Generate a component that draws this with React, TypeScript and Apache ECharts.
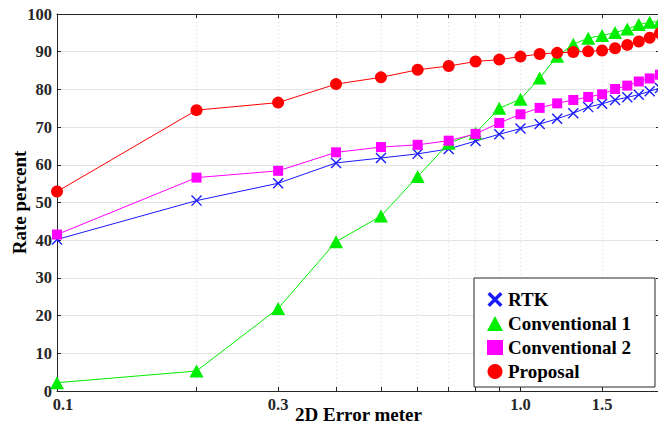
import React, { useEffect, useRef } from "react";
import * as echarts from "echarts";

const errorMeter = [0.1, 0.2, 0.3, 0.4, 0.5, 0.6, 0.7, 0.8, 0.9, 1.0, 1.1, 1.2, 1.3, 1.4, 1.5, 1.6, 1.7, 1.8, 1.9, 2.0];
const rtk = [40.2, 50.5, 55.1, 60.5, 61.8, 62.9, 64.2, 66.3, 68.1, 69.6, 70.8, 72.2, 73.7, 75.3, 76.2, 77.2, 77.9, 78.6, 79.5, 80.4];
const conventional1 = [2.2, 5.3, 21.9, 39.6, 46.4, 56.9, 65.7, 68.4, 75.0, 77.4, 83.0, 88.8, 92.0, 93.6, 94.3, 95.1, 96.0, 97.2, 97.8, 98.0];
const conventional2 = [41.5, 56.6, 58.4, 63.3, 64.7, 65.3, 66.4, 68.2, 71.1, 73.4, 75.1, 76.3, 77.2, 78.0, 78.7, 80.1, 81.0, 82.1, 82.9, 83.9];
const proposal = [52.9, 74.5, 76.5, 81.4, 83.2, 85.2, 86.2, 87.4, 87.9, 88.7, 89.4, 89.7, 89.9, 90.1, 90.3, 90.9, 91.8, 92.7, 93.7, 94.9];

const xLabelTicks = [0.1, 0.3, 1.0, 1.5];
const xMinorTicks = [0.2, 0.4, 0.5, 0.6, 0.7, 0.8, 0.9, 2.0];
const xDashedLines = [0.3, 1.5];
const xSolidLines = [1.0];
const seriesNames = ["RTK", "Conventional 1", "Conventional 2", "Proposal"];

const X_PATH = "path://M0,9L9,0L100,91L91,100ZM91,0L100,9L9,100L0,91Z";
const X_ICON = "path://M0,16L16,0L100,84L84,100ZM84,0L100,16L16,100L0,84Z";
const FONT = "Liberation Serif";
const INK = "#262626";

export default function App() {
  const ref = useRef<HTMLDivElement>(null);
  useEffect(() => {
    if (!ref.current) return;
    const chart = echarts.init(ref.current, null, { renderer: "svg" });
    const pts = (ys: number[]) => errorMeter.map((x, i) => [x, ys[i]]);
    const hiddenLogAxis = (vals: number[], style: any) => ({
      type: "log",
      logBase: 10,
      min: 0.1,
      max: 2,
      position: "bottom",
      axisLine: { show: false },
      axisLabel: { show: false },
      axisTick: { show: false, customValues: vals },
      splitLine: { show: true, showMinLine: false, showMaxLine: false, lineStyle: style },
    });
    const labelFont = { fontFamily: FONT, fontWeight: "bold", fontSize: 16.5, color: INK };
    chart.setOption({
      animation: false,
      backgroundColor: "#ffffff",
      textStyle: { fontFamily: FONT },
      grid: { left: 57, top: 14, right: -2, bottom: 34, outerBoundsMode: "none", containLabel: false },
      xAxis: [
        {
          type: "log",
          logBase: 10,
          min: 0.1,
          max: 2,
          position: "bottom",
          name: "2D Error meter",
          nameLocation: "middle",
          nameGap: 14,
          nameMoveOverlap: false,
          nameTextStyle: { fontFamily: FONT, fontWeight: "bold", fontSize: 19, color: "#000" },
          axisLine: { show: true, onZero: false, lineStyle: { color: INK, width: 1 } },
          axisTick: { show: true, inside: true, length: 4, customValues: [...xLabelTicks, ...xMinorTicks], lineStyle: { color: INK } },
          axisLabel: {
            show: true,
            customValues: xLabelTicks,
            margin: 5,
            ...labelFont,
            formatter: (v: number) => {
              const s = Number(v).toFixed(1);
              return Number(v) < 0.15 ? "{first|" + s + "}" : s;
            },
            rich: { first: { ...labelFont, padding: [0, 0, 0, 12] } },
          },
          splitLine: { show: true, showMinLine: false, showMaxLine: false, lineStyle: { color: "#d9d9d9", type: [1, 3], width: 1 } },
          minorTick: { show: false },
        },
        hiddenLogAxis(xDashedLines, { color: "#8a8a8a", type: [4, 3], width: 1 }),
        hiddenLogAxis(xSolidLines, { color: "#dcdcdc", type: "solid", width: 1 }),
        {
          type: "log",
          logBase: 10,
          min: 0.1,
          max: 2,
          position: "top",
          axisLine: { show: true, lineStyle: { color: INK, width: 1 } },
          axisTick: { show: true, inside: true, length: 4, customValues: [...xLabelTicks, ...xMinorTicks], lineStyle: { color: INK } },
          axisLabel: { show: false },
          splitLine: { show: false },
        },
      ],
      yAxis: [
        {
          type: "value",
          min: 0,
          max: 100,
          interval: 10,
          name: "Rate percent",
          nameLocation: "middle",
          nameGap: 28,
          nameMoveOverlap: false,
          nameTextStyle: { fontFamily: FONT, fontWeight: "bold", fontSize: 19, color: "#000" },
          axisLine: { show: true, lineStyle: { color: INK, width: 1 } },
          axisTick: { show: true, inside: true, length: 4, lineStyle: { color: INK } },
          axisLabel: { margin: 5, ...labelFont },
          splitLine: { show: true, showMinLine: false, showMaxLine: false, lineStyle: { color: "#e3e3e3", width: 1 } },
        },
        {
          type: "value",
          min: 0,
          max: 100,
          interval: 10,
          position: "right",
          axisLine: { show: true, lineStyle: { color: INK, width: 1 } },
          axisTick: { show: true, inside: true, length: 4, lineStyle: { color: INK } },
          axisLabel: { show: false },
          splitLine: { show: false },
        },
      ],
      legend: {
        orient: "vertical",
        left: 474,
        top: 278,
        padding: [12, 24, 6, 13],
        itemGap: 5,
        itemWidth: 16,
        itemHeight: 15,
        backgroundColor: "#ffffff",
        borderColor: INK,
        borderWidth: 1,
        borderRadius: 0,
        textStyle: { fontFamily: FONT, fontWeight: "bold", fontSize: 19, color: "#000" },
        data: [
          { name: seriesNames[0], icon: X_ICON },
          { name: seriesNames[1], icon: "triangle" },
          { name: seriesNames[2], icon: "rect" },
          { name: seriesNames[3], icon: "circle" },
        ],
      },
      series: [
        {
          name: seriesNames[0],
          type: "line",
          data: pts(rtk),
          symbol: X_PATH,
          symbolSize: 11,
          showAllSymbol: true,
          lineStyle: { color: "#1a1aff", width: 1 },
          itemStyle: { color: "#1a1aff" },
          emphasis: { disabled: true },
        },
        {
          name: seriesNames[1],
          type: "line",
          data: pts(conventional1),
          symbol: "triangle",
          symbolSize: [14, 13],
          showAllSymbol: true,
          lineStyle: { color: "#00ee00", width: 1 },
          itemStyle: { color: "#00ee00" },
          emphasis: { disabled: true },
        },
        {
          name: seriesNames[2],
          type: "line",
          data: pts(conventional2),
          symbol: "rect",
          symbolSize: 10,
          showAllSymbol: true,
          lineStyle: { color: "#ff00ff", width: 1 },
          itemStyle: { color: "#ff00ff" },
          emphasis: { disabled: true },
        },
        {
          name: seriesNames[3],
          type: "line",
          data: pts(proposal),
          symbol: "circle",
          symbolSize: 12,
          showAllSymbol: true,
          lineStyle: { color: "#ff0000", width: 1 },
          itemStyle: { color: "#ff0000" },
          emphasis: { disabled: true },
        },
      ],
    });
    return () => chart.dispose();
  }, []);
  return <div ref={ref} style={{ position: "fixed", left: 0, top: 0, width: 658, height: 425 }} />;
}
